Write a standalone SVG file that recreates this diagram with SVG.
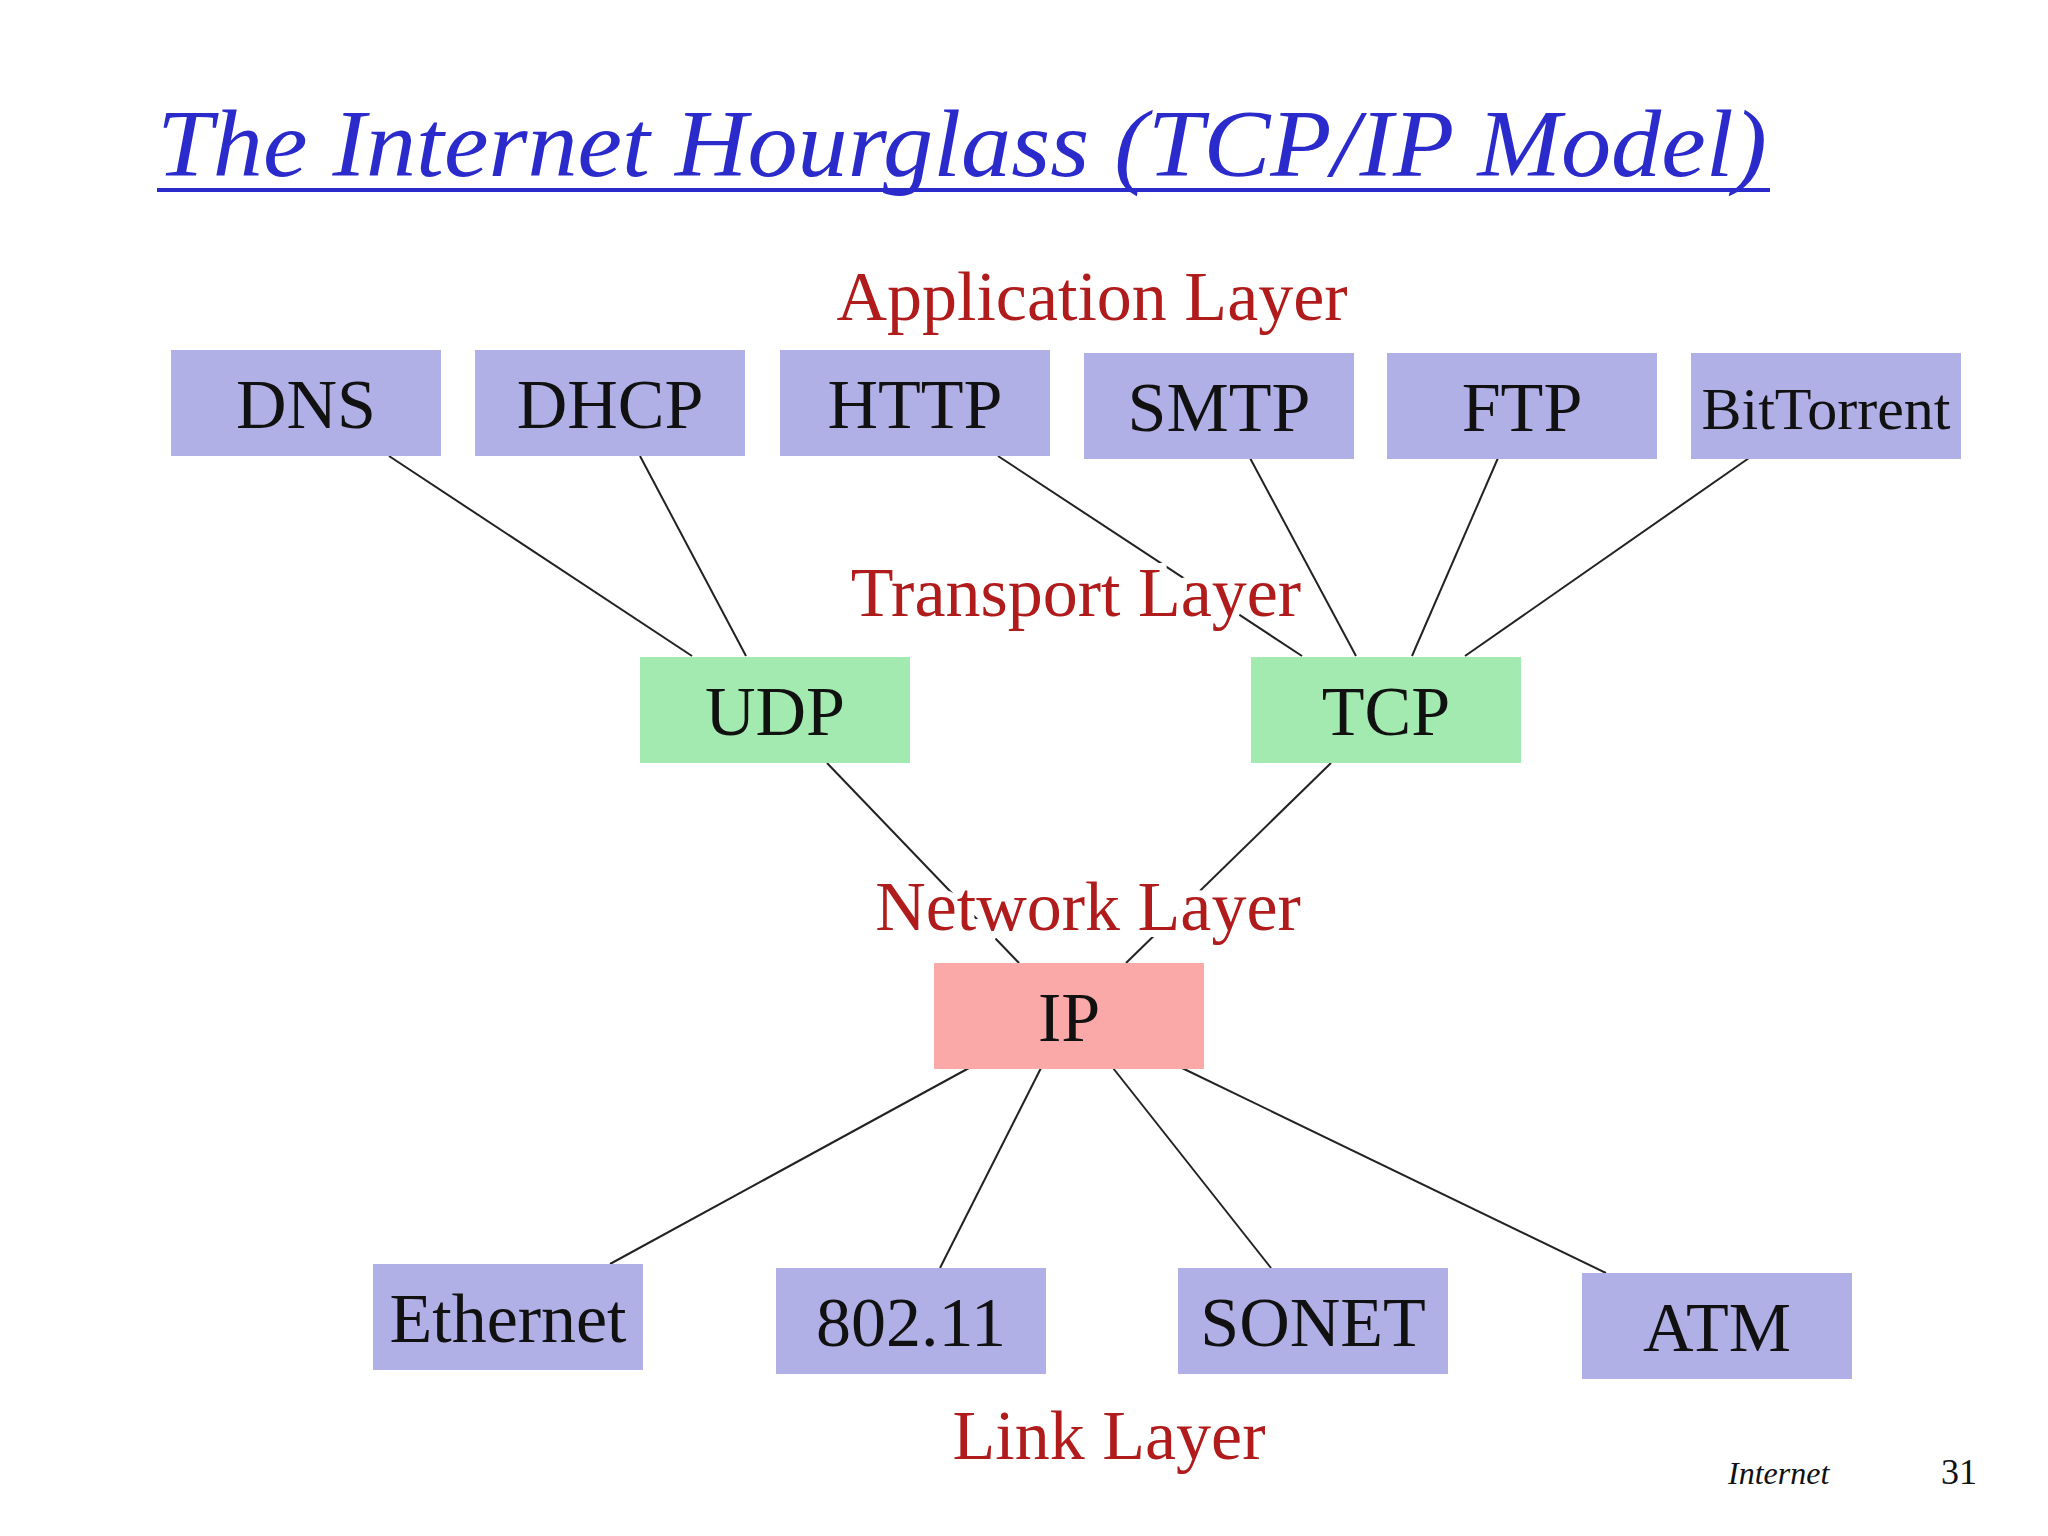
<svg xmlns="http://www.w3.org/2000/svg" width="2048" height="1536" viewBox="0 0 2048 1536">
<style>
.bp{fill:#b0b0e6}.bg{fill:#a3eab0}.br{fill:#fba8a8}
.t{font-family:"Liberation Serif",serif;font-size:70px;fill:#111;text-anchor:middle}
.l{font-family:"Liberation Serif",serif;font-size:70px;fill:#b01c1c;text-anchor:middle;stroke:#fff;stroke-width:14px;paint-order:stroke}
#conn line{stroke:#222;stroke-width:2}
</style>
<rect width="2048" height="1536" fill="#fff"/>
<text x="157" y="176" font-family="Liberation Serif,serif" font-style="italic" font-size="95" fill="#2b2bcc" textLength="1610" lengthAdjust="spacingAndGlyphs">The Internet Hourglass (TCP/IP Model)</text>
<line x1="157" y1="190" x2="1770" y2="190" stroke="#2b2bcc" stroke-width="4"/>
<g id="conn">
<line x1="389" y1="456" x2="692" y2="656"/>
<line x1="640" y1="456" x2="746" y2="656"/>
<line x1="998" y1="456" x2="1302" y2="656"/>
<line x1="1250" y1="458" x2="1356" y2="656"/>
<line x1="1498" y1="458" x2="1412" y2="656"/>
<line x1="1749" y1="458" x2="1465" y2="656"/>
<line x1="827" y1="763" x2="1019" y2="963"/>
<line x1="1331" y1="763" x2="1126" y2="963"/>
<line x1="969" y1="1068" x2="610" y2="1264"/>
<line x1="1041" y1="1068" x2="940" y2="1268"/>
<line x1="1113" y1="1068" x2="1271" y2="1268"/>
<line x1="1182" y1="1068" x2="1606" y2="1273"/>
</g>
<g id="labels">
<text class="l" x="1092" y="320">Application Layer</text>
<text class="l" x="1076" y="616">Transport Layer</text>
<text class="l" x="1088" y="930">Network Layer</text>
<text class="l" x="1109" y="1459">Link Layer</text>
</g>
<g id="dns"><rect class="bp" x="171" y="350" width="270" height="106"/><text class="t" x="306" y="428">DNS</text></g>
<g id="dhcp"><rect class="bp" x="475" y="350" width="270" height="106"/><text class="t" x="610" y="428">DHCP</text></g>
<g id="http"><rect class="bp" x="780" y="350" width="270" height="106"/><text class="t" x="915" y="428">HTTP</text></g>
<g id="smtp"><rect class="bp" x="1084" y="353" width="270" height="106"/><text class="t" x="1219" y="431">SMTP</text></g>
<g id="ftp"><rect class="bp" x="1387" y="353" width="270" height="106"/><text class="t" x="1522" y="431">FTP</text></g>
<g id="bittorrent"><rect class="bp" x="1691" y="353" width="270" height="106"/><text class="t" x="1826" y="429" style="font-size:60px">BitTorrent</text></g>
<g id="udp"><rect class="bg" x="640" y="657" width="270" height="106"/><text class="t" x="775" y="735">UDP</text></g>
<g id="tcp"><rect class="bg" x="1251" y="657" width="270" height="106"/><text class="t" x="1386" y="735">TCP</text></g>
<g id="ip"><rect class="br" x="934" y="963" width="270" height="106"/><text class="t" x="1069" y="1041">IP</text></g>
<g id="ethernet"><rect class="bp" x="373" y="1264" width="270" height="106"/><text class="t" x="508" y="1342">Ethernet</text></g>
<g id="80211"><rect class="bp" x="776" y="1268" width="270" height="106"/><text class="t" x="911" y="1346">802.11</text></g>
<g id="sonet"><rect class="bp" x="1178" y="1268" width="270" height="106"/><text class="t" x="1313" y="1346">SONET</text></g>
<g id="atm"><rect class="bp" x="1582" y="1273" width="270" height="106"/><text class="t" x="1717" y="1351">ATM</text></g>
<text x="1728" y="1484" font-family="Liberation Serif,serif" font-style="italic" font-size="32" fill="#111">Internet</text>
<text x="1941" y="1484" font-family="Liberation Serif,serif" font-size="36" fill="#111">31</text>
</svg>
